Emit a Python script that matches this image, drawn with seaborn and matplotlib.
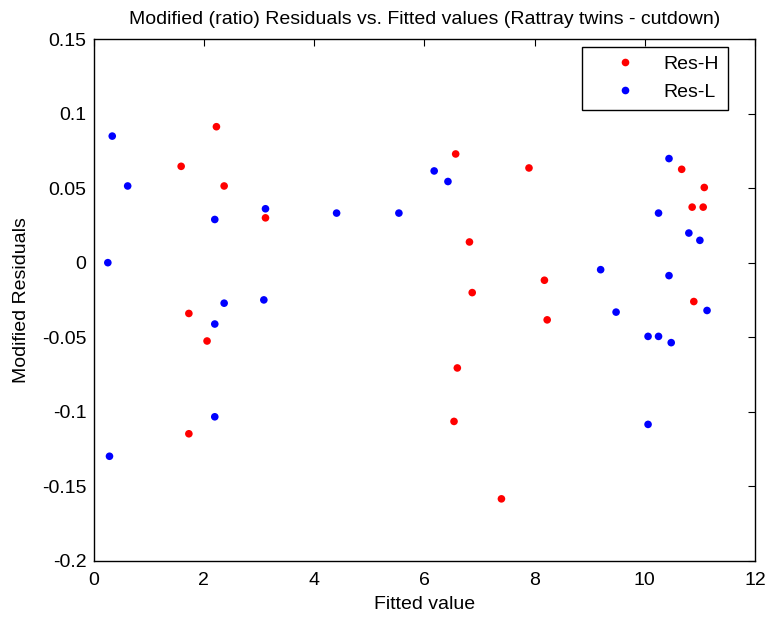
import matplotlib
matplotlib.use("Agg")
import matplotlib.pyplot as plt
import seaborn as sns
import pandas as pd
from matplotlib.lines import Line2D

# Residuals for the "H" set
res_h_fitted = [2.23, 1.59, 2.37, 3.12, 1.73, 2.06, 1.73,
                6.57, 7.90, 6.82, 8.18, 6.87, 8.23, 6.60, 6.54, 7.40,
                10.67, 11.08, 10.86, 11.06, 10.89]
res_h_values = [0.0913, 0.0647, 0.0515, 0.0301, -0.0341, -0.0526, -0.1149,
                0.0730, 0.0636, 0.0139, -0.0118, -0.0201, -0.0384, -0.0707, -0.1066, -0.1586,
                0.0627, 0.0505, 0.0373, 0.0373, -0.0261]

# Residuals for the "L" set
res_l_fitted = [0.34, 0.62, 3.12, 2.20, 0.26, 2.37, 3.09, 2.20, 2.20, 0.29,
                6.18, 6.43, 4.41, 5.54,
                10.44, 10.25, 10.80, 11.00, 9.20, 10.44, 9.48, 11.13,
                10.06, 10.25, 10.48, 10.06]
res_l_values = [0.0850, 0.0515, 0.0362, 0.0290, 0.0000, -0.0272, -0.0250, -0.0412, -0.1035, -0.1300,
                0.0616, 0.0545, 0.0333, 0.0333,
                0.0699, 0.0333, 0.0199, 0.0150, -0.0047, -0.0087, -0.0332, -0.0321,
                -0.0495, -0.0495, -0.0537, -0.1086]

series_names = ["Res-H", "Res-L"]
series_colors = ["#ff0000", "#0000ff"]
x_ticks = [0, 2, 4, 6, 8, 10, 12]
y_ticks = [0.15, 0.1, 0.05, 0, -0.05, -0.1, -0.15, -0.2]
y_tick_labels = ["0.15", "0.1", "0.05", "0", "-0.05", "-0.1", "-0.15", "-0.2"]

df = pd.DataFrame({
    "fitted": res_h_fitted + res_l_fitted,
    "resid": res_h_values + res_l_values,
    "series": [series_names[0]] * len(res_h_fitted) + [series_names[1]] * len(res_l_fitted),
})

sns.set_style("white")
plt.rcParams["font.family"] = ["Liberation Sans", "DejaVu Sans"]
plt.rcParams["axes.unicode_minus"] = False
for key in ["text.color", "axes.labelcolor", "xtick.color", "ytick.color", "axes.edgecolor"]:
    plt.rcParams[key] = "black"

FS = 14

fig = plt.figure(figsize=(7.65, 6.17), dpi=100)
ax = fig.add_axes([93.5 / 765, 1 - 560.5 / 617, 661.5 / 765, 521.2 / 617])

sns.scatterplot(data=df, x="fitted", y="resid", hue="series",
                palette=dict(zip(series_names, series_colors)),
                s=30, linewidth=0, ax=ax, legend=False)

ax.set_xlim(0, 12)
ax.set_ylim(-0.2, 0.15)
ax.set_xticks(x_ticks)
ax.set_xticklabels([str(t) for t in x_ticks])
ax.set_yticks(y_ticks)
ax.set_yticklabels(y_tick_labels)

for sp in ax.spines.values():
    sp.set_visible(True)
    sp.set_color("black")
    sp.set_linewidth(1.0)

ax.tick_params(direction="in", length=5, width=0.8, top=True, right=True,
               labelsize=FS, colors="black")
ax.tick_params(axis="x", pad=8)
ax.tick_params(axis="y", pad=5)

ax.set_title("Modified (ratio) Residuals vs. Fitted values (Rattray twins - cutdown)",
             fontsize=FS, pad=11)
ax.set_xlabel("Fitted value", fontsize=FS, labelpad=5)
ax.set_ylabel("Modified Residuals", fontsize=FS, labelpad=9)

handles = [Line2D([], [], linestyle="none", marker="o", markersize=5.5,
                  markerfacecolor=c, markeredgewidth=0)
           for c in series_colors]
leg = ax.legend(handles, series_names, loc="upper right",
                bbox_to_anchor=(0.959, 0.986), fontsize=FS, frameon=True,
                fancybox=False, edgecolor="black", framealpha=1,
                handlelength=3.5, handletextpad=0.25, borderpad=0.45,
                labelspacing=0.55, borderaxespad=0)
leg.get_frame().set_linewidth(1.0)

fig.savefig("out.png", dpi=100)
